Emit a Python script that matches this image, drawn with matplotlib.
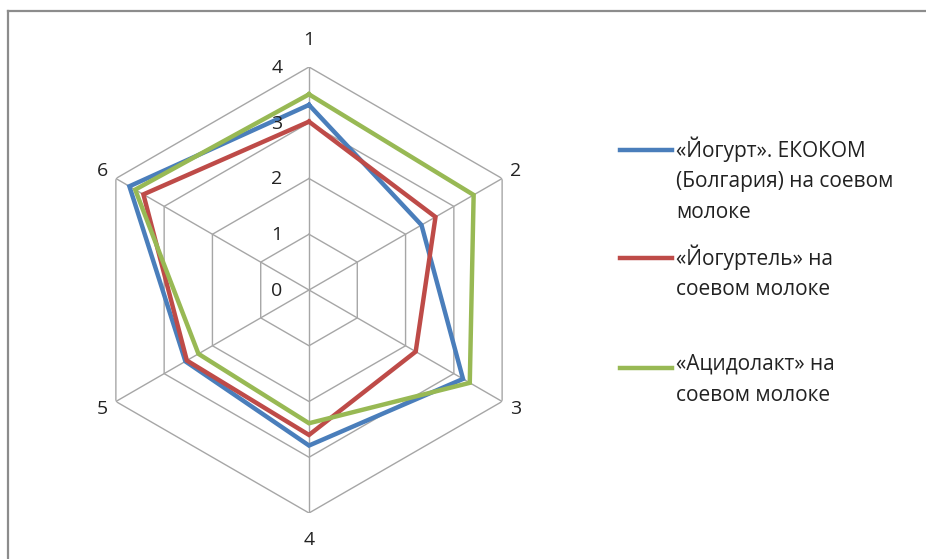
import numpy as np
import matplotlib.pyplot as plt
from matplotlib.lines import Line2D

plt.rcParams['font.family'] = ['Open Sans', 'DejaVu Sans']

axes_labels = ['1', '2', '3', '4', '5', '6']
ring_values = [0, 1, 2, 3, 4]

series_names = ['«Йогурт». ЕКОКОМ\n(Болгария) на соевом\nмолоке',
                '«Йогуртель» на\nсоевом молоке',
                '«Ацидолакт» на\nсоевом молоке']
yogurt_ekokom = [3.32, 2.33, 3.19, 2.79, 2.56, 3.72]
yogurtel = [3.02, 2.62, 2.21, 2.60, 2.53, 3.43]
acidolakt = [3.51, 3.41, 3.33, 2.39, 2.29, 3.60]
series_values = [yogurt_ekokom, yogurtel, acidolakt]
colors = ['#4A7EBB', '#BE4B48', '#98B954']

W, H = 926, 559
fig = plt.figure(figsize=(W / 100, H / 100), dpi=100)

# radar centre (309, 290) px, radius 223 px for value 4
cx, cy, R = 309, 290, 223
ax = fig.add_axes([(cx - R) / W, (H - cy - R) / H, 2 * R / W, 2 * R / H],
                  projection='polar')
ax.set_theta_zero_location('N')
ax.set_theta_direction(-1)
ax.set_ylim(0, 4)
ax.grid(False)
ax.spines['polar'].set_visible(False)
ax.set_xticks([])
ax.set_yticks([])
ax.patch.set_alpha(0)

n = len(axes_labels)
theta = np.arange(n) * 2 * np.pi / n
theta_closed = np.append(theta, theta[0])

# hexagonal grid
grid_c = '#A6A6A6'
for r in ring_values[1:]:
    ax.plot(theta_closed, [r] * (n + 1), color=grid_c, lw=1, zorder=1)
for t in theta:
    ax.plot([t, t], [0, 4], color=grid_c, lw=1, zorder=1)

for vals, c in zip(series_values, colors):
    ax.plot(theta_closed, vals + vals[:1], color=c, lw=3.2, zorder=3,
            solid_joinstyle='miter')

# ring values
for r in ring_values:
    ax.annotate(str(r), (0, r), xytext=(-32, -1), textcoords='offset pixels',
                ha='center', va='center', fontsize=14, color='#222222')

# axis labels
for t, lab in zip(theta, axes_labels):
    vertical = abs(np.sin(t)) < 0.1
    rr = 4.48 if vertical else 4.28
    ax.text(t, rr, lab, ha='center', va='center', fontsize=14,
            color='#222222', clip_on=False)

# legend drawn by hand
entries_y = [150, 258, 368]
for name, c, y in zip(series_names, colors, entries_y):
    fy = 1 - y / H
    fig.add_artist(Line2D([620 / W, 672 / W], [fy, fy], color=c, lw=3.2,
                          transform=fig.transFigure))
    fig.text(676 / W, 1 - (y - 14) / H, name, ha='left', va='top',
             fontsize=15, linespacing=1.62, color='#222222')

# chart area border (top and left only visible)
border_c = '#8C8C8C'
fig.add_artist(Line2D([7.5 / W, 1], [1 - 11 / H, 1 - 11 / H], color=border_c,
                      lw=1.6, transform=fig.transFigure))
fig.add_artist(Line2D([8 / W, 8 / W], [0, 1 - 11 / H], color=border_c,
                      lw=1.6, transform=fig.transFigure))

fig.savefig('out.png', dpi=100)
